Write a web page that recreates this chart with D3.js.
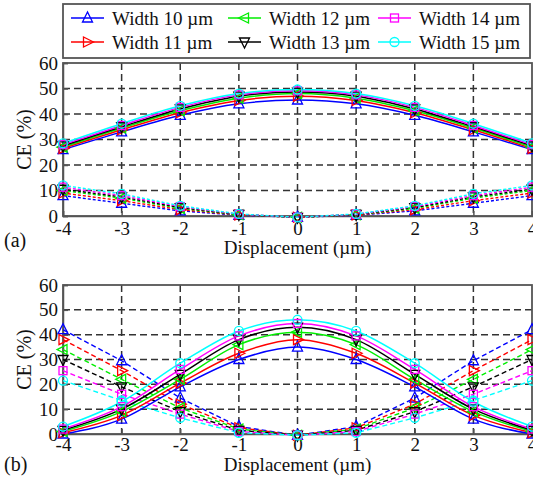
<!DOCTYPE html>
<html>
<head>
<meta charset="utf-8">
<script src="https://cdn.jsdelivr.net/npm/d3@7"></script>
<style>
  body { margin: 0; background: #fff; }
  svg text { font-family: "Liberation Serif", "Times New Roman", "DejaVu Serif", serif; fill: #111; }
</style>
</head>
<body>
<div id="visual"></div>
<script>
// displacement positions (µm)
var xs = [-4, -3, -2, -1, 0, 1, 2, 3, 4];
var names = ["Width 10 \u00b5m", "Width 11 \u00b5m", "Width 12 \u00b5m", "Width 13 \u00b5m", "Width 14 \u00b5m", "Width 15 \u00b5m"];
var colors = ["#0000ff", "#ff0000", "#00ee00", "#000000", "#ff00ff", "#00ffff"];
var symbols = ["up", "right", "left", "down", "square", "circle"];
var xTicks = [-4, -3, -2, -1, 0, 1, 2, 3, 4];
var yTicks = [0, 10, 20, 30, 40, 50, 60];

// panel (a) - solid
var aSolid = [
  [26, 33, 39.5, 44, 45.5, 44, 39.5, 33, 26],
  [26.5, 33.8, 40.5, 45.3, 47, 45.3, 40.5, 33.8, 26.5],
  [27, 34.5, 41.3, 46.2, 48, 46.2, 41.3, 34.5, 27],
  [27.5, 35, 42, 47, 48.6, 47, 42, 35, 27.5],
  [28, 35.5, 42.6, 47.5, 49.1, 47.5, 42.6, 35.5, 28],
  [28.5, 36.2, 43.2, 48, 49.6, 48, 43.2, 36.2, 28.5]
];
// panel (a) - dashed
var aDashed = [
  [8, 5, 2, 0.3, -0.5, 0.3, 2, 5, 8],
  [9, 6, 2.5, 0.4, -0.5, 0.4, 2.5, 6, 9],
  [10, 7, 3, 0.5, -0.5, 0.5, 3, 7, 10],
  [10.5, 7.5, 3.3, 0.6, -0.5, 0.6, 3.3, 7.5, 10.5],
  [11.3, 8, 3.7, 0.7, -0.5, 0.7, 3.7, 8, 11.3],
  [12, 8.7, 4, 0.8, -0.5, 0.8, 4, 8.7, 12]
];
// panel (b) - solid
var bSolid = [
  [0, 6, 19, 30, 35, 30, 19, 6, 0],
  [0.5, 7.5, 20.5, 32.5, 38, 32.5, 20.5, 7.5, 0.5],
  [1, 9, 22, 36, 41, 36, 22, 9, 1],
  [1.5, 10, 24, 38, 43, 38, 24, 10, 1.5],
  [2, 11, 26, 39.5, 44.5, 39.5, 26, 11, 2],
  [3, 13, 28.5, 41.5, 46, 41.5, 28.5, 13, 3]
];
// panel (b) - dashed
var bDashed = [
  [42, 29.5, 14.5, 3, -0.5, 3, 14.5, 29.5, 42],
  [38, 25.5, 12, 2.5, -0.5, 2.5, 12, 25.5, 38],
  [34, 22, 10.5, 2, -0.5, 2, 10.5, 22, 34],
  [30, 19, 9, 1.5, -0.5, 1.5, 9, 19, 30],
  [25.5, 16, 8, 1, -0.5, 1, 8, 16, 25.5],
  [21.5, 13.5, 6.5, 0.5, -0.5, 0.5, 6.5, 13.5, 21.5]
];

var W = 533, H = 481;
var FONT = "'Liberation Serif', 'Times New Roman', 'DejaVu Serif', serif";
var svg = d3.select("#visual").append("svg").attr("width", W).attr("height", H);

function marker(g, kind, x, y, color) {
  var s = 5;
  var pts;
  if (kind == "circle") {
    g.append("circle").attr("cx", x).attr("cy", y).attr("r", 4.5)
      .attr("fill", "none").attr("stroke", color).attr("stroke-width", 1.3);
    return;
  }
  if (kind == "square") {
    g.append("rect").attr("x", x - 4).attr("y", y - 4).attr("width", 8).attr("height", 8)
      .attr("fill", "none").attr("stroke", color).attr("stroke-width", 1.3);
    return;
  }
  if (kind == "up") pts = [[x, y - s - 1], [x - s, y + s - 1], [x + s, y + s - 1]];
  if (kind == "down") pts = [[x, y + s + 1], [x - s, y - s + 1], [x + s, y - s + 1]];
  if (kind == "right") pts = [[x + s + 1, y], [x - s + 1, y - s], [x - s + 1, y + s]];
  if (kind == "left") pts = [[x - s - 1, y], [x + s - 1, y - s], [x + s - 1, y + s]];
  g.append("polygon").attr("points", pts.map(p => p.join(",")).join(" "))
    .attr("fill", "none").attr("stroke", color).attr("stroke-width", 1.3);
}

function panel(top, bottom, tag, solid, dashed, dash, labY, tagY, tickY) {
  var x = d3.scaleLinear().domain([-4, 4]).range([63, 532]);
  var y = d3.scaleLinear().domain([0, 60]).range([bottom, top]);
  var g = svg.append("g");

  // grid
  g.selectAll(".gx").data(xTicks.slice(1, -1)).enter().append("line")
    .attr("x1", d => x(d)).attr("x2", d => x(d)).attr("y1", top).attr("y2", bottom)
    .attr("stroke", "#333").attr("stroke-width", 1.5).attr("stroke-dasharray", "7,4");
  g.selectAll(".gy").data(yTicks.slice(1, -1)).enter().append("line")
    .attr("x1", x(-4)).attr("x2", x(4)).attr("y1", d => y(d)).attr("y2", d => y(d))
    .attr("stroke", "#333").attr("stroke-width", 1.5).attr("stroke-dasharray", "7,4");

  // axes
  var xAxis = d3.axisBottom(x).tickValues(xTicks).tickSize(-5).tickPadding(10).tickFormat(d3.format("d"));
  var yAxis = d3.axisLeft(y).tickValues(yTicks).tickSize(-5).tickPadding(5);
  var gx = g.append("g").attr("transform", "translate(0," + bottom + ")").call(xAxis);
  var gy = g.append("g").attr("transform", "translate(63,0)").call(yAxis);
  [gx, gy].forEach(function(a) {
    a.attr("font-family", FONT).attr("font-size", 19);
    a.selectAll("path,line").attr("stroke", "#555").attr("stroke-width", 1.5);
    a.selectAll("text").attr("fill", "#111");
  });
  gx.selectAll("text").text(d => d < 0 ? "-" + (-d) : d).attr("dy", null).attr("y", tickY - bottom);
  g.append("rect").attr("x", x(-4)).attr("y", top).attr("width", x(4) - x(-4)).attr("height", bottom - top)
    .attr("fill", "none").attr("stroke", "#555").attr("stroke-width", 1.8);

  var line = d3.line().x((d, i) => x(xs[i])).y(d => y(d));
  var smooth = d3.line().x((d, i) => x(xs[i])).y(d => y(d)).curve(d3.curveMonotoneX);

  // dashed series
  dashed.forEach(function(s, k) {
    g.append("path").attr("d", line(s)).attr("fill", "none").attr("stroke", colors[k])
      .attr("stroke-width", 1.4).attr("stroke-dasharray", dash);
  });
  // solid series
  solid.forEach(function(s, k) {
    g.append("path").attr("d", smooth(s)).attr("fill", "none").attr("stroke", colors[k])
      .attr("stroke-width", 1.5);
  });
  [dashed, solid].forEach(function(set) {
    set.forEach(function(s, k) {
      s.forEach(function(v, i) { marker(g, symbols[k], x(xs[i]), y(v), colors[k]); });
    });
  });

  g.append("text").attr("x", x(0)).attr("y", labY).attr("text-anchor", "middle")
    .attr("font-size", 19).text("Displacement (\u00b5m)");
  g.append("text").attr("transform", "translate(31," + ((top + bottom) / 2) + ") rotate(-90)")
    .attr("text-anchor", "middle").attr("font-size", 20).text("CE (%)");
  g.append("text").attr("x", 4).attr("y", tagY).attr("font-size", 20).text(tag);
}

panel(63, 216, "(a)", aSolid, aDashed, "3,2", 254, 247, 235);
panel(285, 434, "(b)", bSolid, bDashed, "5,3", 471, 471, 451);

// legend
var leg = svg.append("g");
leg.append("rect").attr("x", 63).attr("y", 4).attr("width", 467).attr("height", 54)
  .attr("fill", "#fff").attr("stroke", "#555").attr("stroke-width", 1.8);
var colX = [71, 228, 378];
names.forEach(function(n, k) {
  var cx = colX[Math.floor(k / 2)], cy = k % 2 == 0 ? 18 : 42;
  leg.append("line").attr("x1", cx).attr("x2", cx + 33).attr("y1", cy).attr("y2", cy)
    .attr("stroke", colors[k]).attr("stroke-width", 1.5);
  marker(leg, symbols[k], cx + 16.5, cy, colors[k]);
  leg.append("text").attr("x", cx + 41).attr("y", cy + 6.5).attr("font-size", 19).text(n);
});
</script>
</body>
</html>
